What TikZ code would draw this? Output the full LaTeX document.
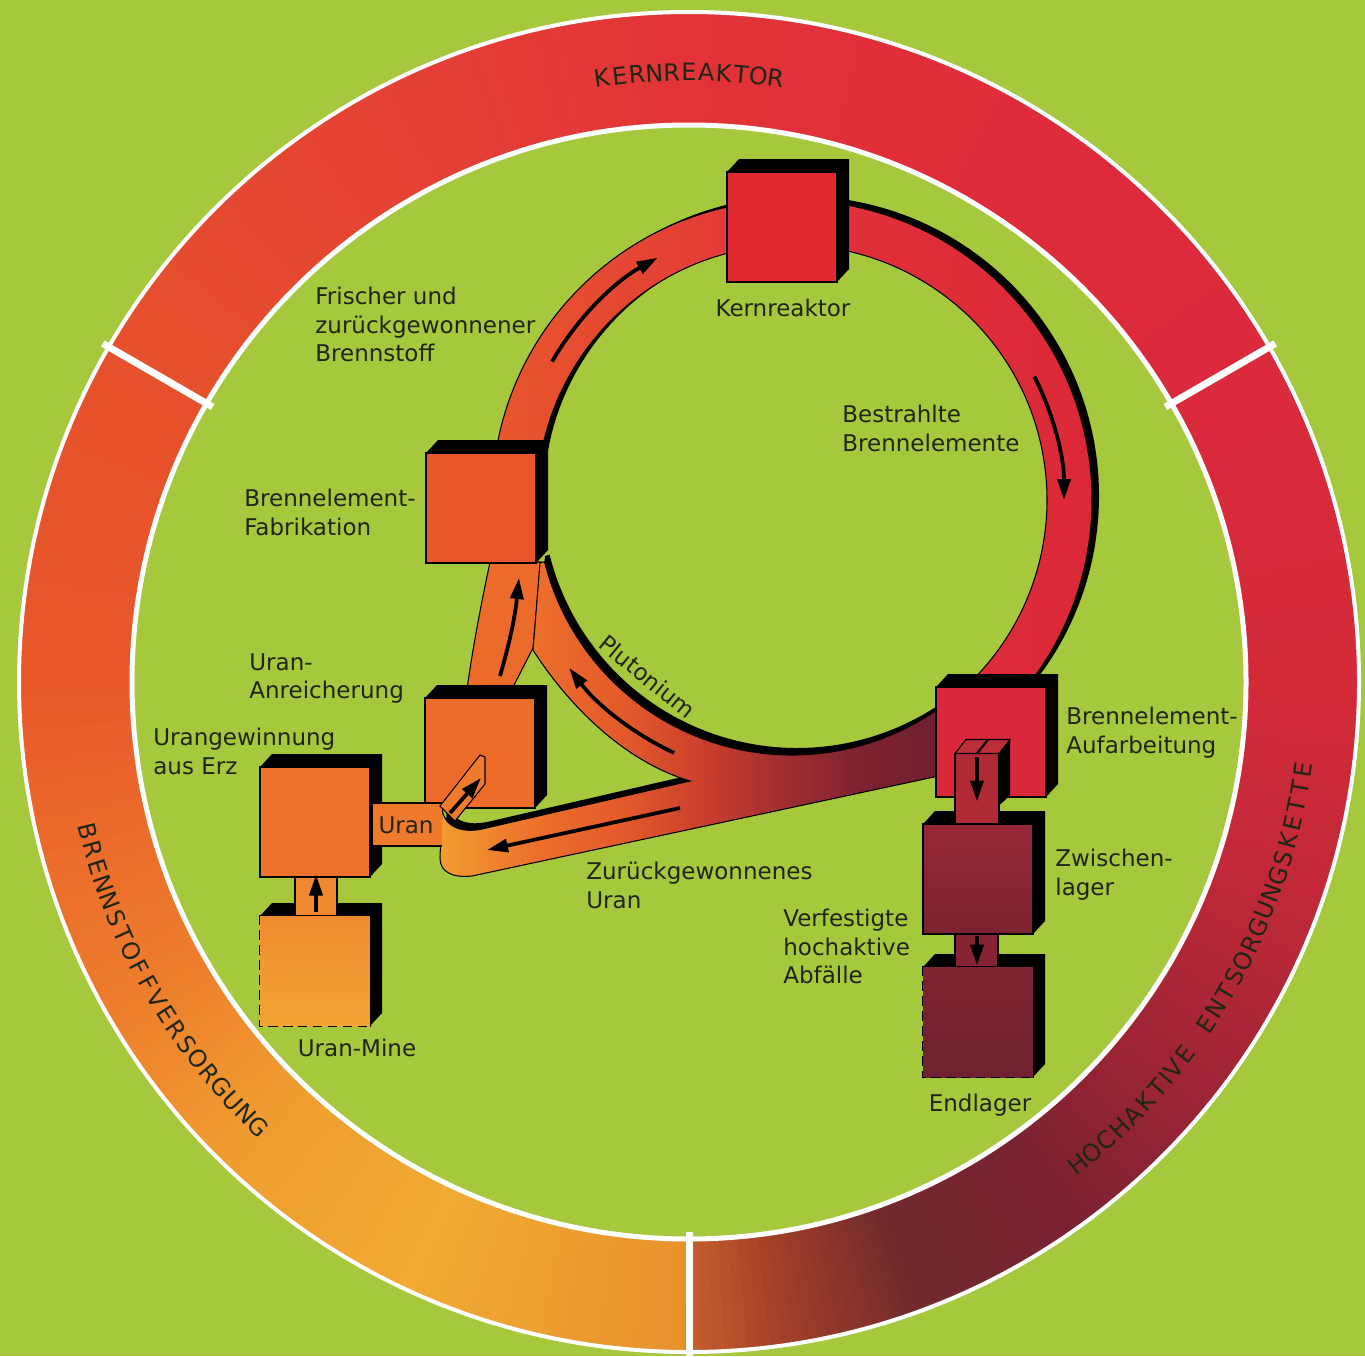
\documentclass[tikz,border=0pt]{standalone}
\usepackage{fontspec}
\setmainfont{DejaVu Sans}
\usetikzlibrary{arrows.meta,calc}
\definecolor{bggreen}{HTML}{A6C83C}
\definecolor{txtcol}{HTML}{1E2616}
% ring colour stops
\definecolor{rA}{HTML}{E9922C}\definecolor{rB}{HTML}{F1AA33}\definecolor{rC}{HTML}{F09C30}
\definecolor{rD}{HTML}{EE7E2C}\definecolor{rE}{HTML}{E8582A}\definecolor{rF}{HTML}{E6502C}
\definecolor{rG}{HTML}{E54234}\definecolor{rH}{HTML}{E23338}\definecolor{rI}{HTML}{DF2C3A}
\definecolor{rJ}{HTML}{DB2A3C}\definecolor{rK}{HTML}{D42A38}\definecolor{rL}{HTML}{C02838}
\definecolor{rM}{HTML}{9C2434}\definecolor{rN}{HTML}{7A2232}\definecolor{rO}{HTML}{702A2C}
\definecolor{rP}{HTML}{A44028}\definecolor{rQ}{HTML}{C65E2C}
% lower band stops
\definecolor{lwA}{HTML}{F39C30}\definecolor{lwB}{HTML}{EC6E2C}\definecolor{lwC}{HTML}{E45A2A}
\definecolor{lwD}{HTML}{CC402C}\definecolor{lwE}{HTML}{A22E30}\definecolor{lwF}{HTML}{7E2230}
\definecolor{lwG}{HTML}{6C1E2E}
\definecolor{loopL}{HTML}{E8582C}\definecolor{loopM}{HTML}{E2303A}\definecolor{loopR}{HTML}{DA2838}
\definecolor{anrband}{HTML}{EC6A2A}
\definecolor{krred}{HTML}{E2292F}\definecolor{fabcol}{HTML}{E9562A}\definecolor{anrcol}{HTML}{EE6C2A}
\definecolor{gewcol}{HTML}{EF722C}\definecolor{mineT}{HTML}{F08C30}\definecolor{mineB}{HTML}{F2A434}
\definecolor{aufcol}{HTML}{D8283A}\definecolor{zwT}{HTML}{962836}\definecolor{zwB}{HTML}{7C2232}
\definecolor{endT}{HTML}{7E2432}\definecolor{endB}{HTML}{702230}
\definecolor{conorange}{HTML}{F08830}\definecolor{conmaroon}{HTML}{862434}
\definecolor{prismF}{HTML}{B02A36}\definecolor{prismT}{HTML}{BC2E38}
\definecolor{urancol}{HTML}{EF7A2C}\definecolor{tabcol}{HTML}{F07A2C}
\pgfdeclarehorizontalshading{lowshade}{100bp}{color(0bp)=(lwA); color(25bp)=(lwA); color(34.8bp)=(lwB); color(42.7bp)=(lwC); color(50.5bp)=(lwD); color(58.4bp)=(lwE); color(66.3bp)=(lwF); color(75bp)=(lwG); color(100bp)=(lwG)}
\newcommand\lblfont{\fontsize{13.1}{16.2}\selectfont}
\newcommand\ringfont{\fontsize{13.6}{15}\selectfont}
\newcommand\cubeshadow[1]{\fill[black] ($(#1)+(-55,-55)$) -- ++(12,-13) -- ++(110,0) -- ++(0,110) -- ++(-12,13) -- ++(0,-110) -- cycle;}
\begin{document}
\begin{tikzpicture}[x=0.02cm, y=-0.02cm,
  lbl/.style={font=\lblfont, text=txtcol, inner sep=0pt, align=left, anchor=north west},
  ringletter/.style={font=\ringfont, text=txtcol, inner sep=0pt, anchor=center},
  cube/.style={rectangle, draw=black, line width=0.6pt, minimum width=2.2cm, minimum height=2.2cm, inner sep=0pt},
  arr/.style={draw=black, line width=0.075cm, -{Triangle[length=0.42cm,width=0.26cm]}},
  edgeline/.style={draw=black, line width=0.6pt},
  dashedge/.style={draw=black, line width=0.9pt, dash pattern=on 5.5pt off 3pt}]
\useasboundingbox (0,0) rectangle (1365,1356);
\fill[bggreen] (0,0) rectangle (1365,1356);

% ---------- outer ring ----------
\begin{scope}[shift={(689,682)}]
 \foreach \a/\b/\ca/\cb in {90/115/rA/rB,115/135/rB/rC,135/150/rC/rD,150/180/rD/rE,180/210/rE/rF,
   210/240/rF/rG,240/270/rG/rH,270/300/rH/rI,300/330/rI/rJ,330/360/rJ/rK,360/380/rK/rL,
   380/400/rL/rM,400/415/rM/rN,415/430/rN/rO,430/442/rO/rP,442/450/rP/rQ}{
   \pgfmathtruncatemacro\n{max(1,round((\b-\a)/1))}
   \foreach \i in {1,...,\n}{
     \pgfmathsetmacro\s{\a+(\i-1)*(\b-\a)/\n}
     \pgfmathsetmacro\e{\a+\i*(\b-\a)/\n+0.3}
     \pgfmathsetmacro\p{100*(\i-0.5)/\n}
     \fill[\cb!\p!\ca] (\s:557) arc[start angle=\s, end angle=\e, radius=557] -- (\e:670) arc[start angle=\e, end angle=\s, radius=670] -- cycle;
   }
 }
 \draw[white, line width=0.1cm] (0,0) circle[radius=557];
 \draw[white, line width=0.08cm] (0,0) circle[radius=670];
 \foreach \ang in {90,210,330} \draw[white, line width=0.14cm] (\ang:550) -- (\ang:677);
 % ring titles, letter by letter
 \foreach \ch [count=\k from 0] in {K,E,R,N,R,E,A,K,T,O,R}{
   \pgfmathsetmacro\th{261.83+\k*1.634}
   \pgfmathsetmacro\rot{-\th-90}
   \node[ringletter, rotate=\rot] (kt\k) at (\th:610) {\ch};
 }
 \foreach \ch [count=\k from 0] in {B,R,E,N,N,S,T,O,F,F,V,E,R,S,O,R,G,U,N,G}{
   \pgfmathsetmacro\th{166.0-\k*1.68}
   \pgfmathsetmacro\rot{90-\th}
   \node[ringletter, rotate=\rot] (bt\k) at (\th:619) {\ch};
 }
 \foreach \ch/\th [count=\k] in {H/51.1,O/49.407,C/47.714,H/46.021,A/44.328,K/42.635,T/40.942,I/39.757,V/38.572,E/36.879,
   E/33.493,N/31.8,T/30.107,S/28.414,O/26.721,R/25.028,G/23.335,U/21.642,N/19.949,G/18.256,S/16.563,K/14.87,E/13.177,T/11.484,T/9.791,E/8.098}{
   \pgfmathsetmacro\rot{90-\th}
   \node[ringletter, rotate=\rot] (ht\k) at (\th:620) {\ch};
 }
\end{scope}

% ---------- main loop ----------
\begin{scope}[shift={(7,-4)}]
 \fill[black] ([shift={(792,500)}]175:255) arc[start angle=175, end angle=410, radius=255] -- ([shift={(792,500)}]410:300) arc[start angle=410, end angle=175, radius=300] -- cycle;
\end{scope}
\shadedraw[left color=loopL, right color=loopR, middle color=loopM, draw=black, line width=0.6pt]
 ([shift={(792,500)}]175:255) arc[start angle=175, end angle=410, radius=255] -- ([shift={(792,500)}]410:300) arc[start angle=410, end angle=175, radius=300] -- cycle;

% band Anreicherung -> Fabrikation
\path[fill=anrband, edgeline] (467,689) .. controls (474,640) and (482,600) .. (490,562) -- (541,562) -- (533,648) -- (512,689) -- cycle;

% lower complex (plutonium + recovered uranium)
\begin{scope}[shift={(5,-7)}]
 \fill[black] ([shift={(792,500)}]52:255) arc[start angle=52, end angle=166, radius=255] -- (540,563) -- (533,650) .. controls (565,700) and (620,760) .. (690,781) -- (482,829) .. controls (458,834) and (442,824) .. (442,806) -- (440,858) .. controls (440,872) and (452,878) .. (472,876) -- (948,774) -- cycle;
\end{scope}
\shadedraw[shading=lowshade, shading angle=0, draw=black, line width=0.6pt]
 ([shift={(792,500)}]52:255) arc[start angle=52, end angle=166, radius=255] -- (540,563) -- (533,650) .. controls (565,700) and (620,760) .. (690,781) -- (482,829) .. controls (458,834) and (442,824) .. (442,806) -- (440,858) .. controls (440,872) and (452,878) .. (472,876) -- (948,774) -- cycle;

% ---------- boxes ----------
\coordinate (ckr) at (782,227);
\coordinate (cfab) at (481,508);
\coordinate (canr) at (480,753);
\coordinate (cgew) at (315,822);
\coordinate (cmine) at (315,971);
\coordinate (cauf) at (991,742);
\coordinate (czw) at (978,879);
\coordinate (cend) at (978,1022);

\cubeshadow{ckr}\node[cube, fill=krred] (kr) at (ckr) {};
\cubeshadow{cfab}\node[cube, fill=fabcol] (fab) at (cfab) {};
\cubeshadow{canr}\node[cube, fill=anrcol] (anr) at (canr) {};
\cubeshadow{cgew}\node[cube, fill=gewcol] (gew) at (cgew) {};
\cubeshadow{cmine}\node[cube, draw=none, top color=mineT, bottom color=mineB] (mine) at (cmine) {};
\draw[edgeline] (mine.south east) -- (mine.north east) -- (mine.north west);
\draw[dashedge] (mine.north west) -- (mine.south west) -- (mine.south east);
\cubeshadow{cauf}\node[cube, fill=aufcol] (auf) at (cauf) {};
\cubeshadow{czw}\node[cube, top color=zwT, bottom color=zwB] (zw) at (czw) {};
\cubeshadow{cend}\node[cube, draw=none, top color=endT, bottom color=endB] (end) at (cend) {};
\draw[edgeline] (end.south east) -- (end.north east) -- (end.north west);
\draw[dashedge] (end.north west) -- (end.south west) -- (end.south east);

% ---------- connectors ----------
\fill[urancol] ($(gew.east)+(2,-19)$) rectangle ($(gew.east)+(71,24)$);
\draw[edgeline] ($(gew.east)+(2,-19)$) -- ($(gew.east)+(71,-19)$);
\draw[edgeline] ($(gew.east)+(2,24)$) -- ($(gew.east)+(71,24)$);
\node[font=\lblfont, text=txtcol, inner sep=0pt] (luran) at (406,825) {Uran};
\path[fill=tabcol, edgeline] (440,806) -- (480,755) -- (485,757) -- (485,784) -- (455,821) -- cycle;
\path[fill=conorange, edgeline] ($(gew.south)+(-20,0)$) rectangle ($(mine.north)+(22,0)$);
\fill[black] ($(zw.north)+(21,-70)$) -- ($(zw.north)+(32,-84)$) -- ($(zw.north)+(32,-28)$) -- ($(zw.north)+(21,-18)$) -- cycle;
\path[fill=prismF, edgeline] ($(zw.north)+(-23,-70)$) rectangle ($(zw.north)+(21,0)$);
\path[fill=prismT, edgeline] ($(zw.north)+(-23,-70)$) -- ($(zw.north)+(-12,-84)$) -- ($(zw.north)+(32,-84)$) -- ($(zw.north)+(21,-70)$) -- cycle;
\draw[black, line width=1.2pt] ($(zw.north)+(-1,-70)$) -- ($(zw.north)+(10,-84)$);
\path[fill=conmaroon, edgeline] ($(zw.south)+(-23,0)$) rectangle ($(end.north)+(20,0)$);

% ---------- arrows ----------
\draw[arr] ([shift={(792,500)}]210:277) arc[start angle=210, end angle=241, radius=277];
\draw[arr] ([shift={(792,500)}]333:272) arc[start angle=333, end angle=360, radius=272];
\draw[arr] (500,676) to[bend right=5] (519,578);
\draw[arr] ([shift={(792,500)}]115:279) arc[start angle=115, end angle=143, radius=279];
\draw[arr] (680,808) -- (487,850);
\draw[arr] (450,813) -- (481,778);
\draw[arr] ($(mine.north)+(1,-3)$) -- ($(gew.south)+(1,-3)$);
\draw[arr] ($(zw.north)+(-1,-66)$) -- ($(zw.north)+(-1,-22)$);
\draw[arr] ($(zw.south)+(-1,1)$) -- ($(end.north)+(-1,-1)$);

% ---------- labels ----------
\node[lbl] (lfrisch) at (315,287) {Frischer und\\zurückgewonnener\\Brennstoff};
\node[lbl, anchor=north, align=center] (lkr) at (783,299) {Kernreaktor};
\node[lbl] (lbestr) at (842,405) {Bestrahlte\\Brennelemente};
\node[lbl] (lfab) at (244,489) {Brennelement-\\Fabrikation};
\node[lbl] (lanr) at (249,653) {Uran-\\Anreicherung};
\node[lbl] (lgew) at (153,728) {Urangewinnung\\aus Erz};
\node[lbl] (lauf) at (1066,707) {Brennelement-\\Aufarbeitung};
\node[lbl] (lzw) at (1055,849) {Zwischen-\\lager};
\node[lbl] (lzur) at (586,862) {Zurückgewonnenes\\Uran};
\node[lbl] (lverf) at (783,909) {Verfestigte\\hochaktive\\Abfälle};
\node[lbl, anchor=north, align=center] (lmine) at (357,1039) {Uran-Mine};
\node[lbl, anchor=north, align=center] (lend) at (980,1094) {Endlager};
\node[font=\lblfont, text=txtcol, inner sep=0pt, anchor=base, rotate=-39.3] (lplu) at ([shift={(792,500)}]129.3:237) {Plutonium};
\end{tikzpicture}
\end{document}
